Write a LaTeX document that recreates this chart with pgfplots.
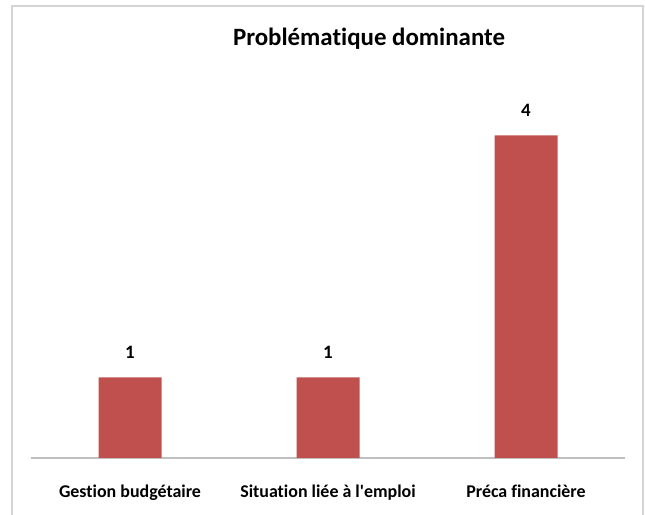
\documentclass[border=0pt]{standalone}
\usepackage{pgfplots}
\pgfplotsset{compat=1.18}
\usepackage{fontspec}
\setmainfont{Carlito}[Ligatures=NoCommon]
\definecolor{barred}{HTML}{C0504D}
\definecolor{framegray}{HTML}{D4D4D4}
\definecolor{axisgray}{HTML}{BFBFBF}

\begin{document}
\begin{tikzpicture}[x=1bp,y=1bp]
\useasboundingbox (0,0) rectangle (645,515);
% chart frame
\draw[framegray, line width=2bp] (12,-10) rectangle (643,509);
% title
\node[font=\fontsize{25}{29}\selectfont\bfseries] at (369,476) {Problématique dominante};

\begin{axis}[
    at={(31bp,57bp)}, anchor=south west,
    scale only axis,
    width=594bp, height=363bp,
    xmin=-0.5, xmax=2.5,
    ymin=0, ymax=4.5,
    ybar, bar width=63bp,
    axis x line*=bottom,
    hide y axis,
    x axis line style={axisgray, line width=1.2bp, -},
    xtick={0,1,2},
    xticklabels={Gestion budgétaire, Situation liée à l\textquotesingle emploi, Préca financière},
    major tick length=0pt,
    xticklabel style={font=\fontsize{18}{21}\selectfont\bfseries, yshift=-23bp},
    /pgf/number format/assume math mode=true,
    nodes near coords,
    every node near coord/.append style={font=\fontsize{19}{22}\selectfont\bfseries, text=black, yshift=15bp},
]
\addplot[fill=barred, draw=none] coordinates {(0,1) (1,1) (2,4)};
\end{axis}
\end{tikzpicture}
\end{document}
